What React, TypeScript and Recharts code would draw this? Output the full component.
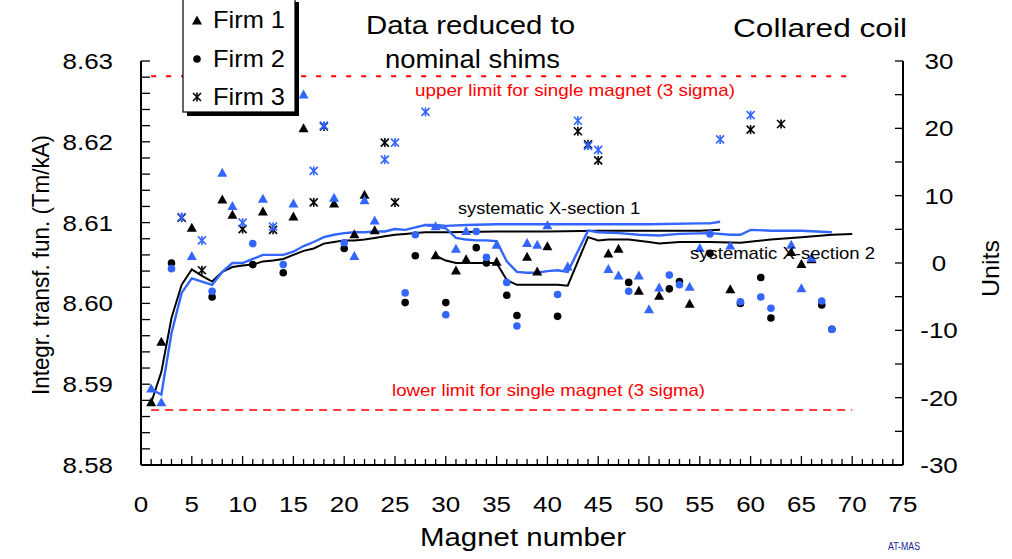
import { ComposedChart, Line, Scatter, XAxis, YAxis } from "recharts";

type P = [number, number];

// Firm 1 (triangles): black = one reduction, blue = the other
const firm1Black: P[] = [
  [1, 8.5877], [2, 8.5952], [5, 8.6093], [8, 8.6128], [9, 8.6109], [12, 8.6113], [15, 8.6107],
  [16, 8.6216], [19, 8.6123], [21, 8.6085], [22, 8.6134], [23, 8.609], [29, 8.6059], [31, 8.604],
  [32, 8.6054], [35, 8.6051], [38, 8.6057], [39, 8.6039], [40, 8.607], [46, 8.6061], [47, 8.6067],
  [49, 8.6015], [51, 8.6009], [54, 8.5999], [58, 8.6017], [64, 8.6063], [65, 8.6048], [66, 8.6054],
];
const firm1Blue: P[] = [
  [1, 8.5894], [2, 8.5877], [5, 8.6058], [8, 8.6161], [9, 8.612], [12, 8.6129], [15, 8.6123],
  [16, 8.6258], [19, 8.613], [21, 8.6058], [22, 8.6127], [23, 8.6102], [29, 8.6095], [31, 8.6067],
  [32, 8.6089], [35, 8.6072], [38, 8.6074], [39, 8.6072], [40, 8.6096], [42, 8.6045], [46, 8.6042],
  [47, 8.6034], [49, 8.6034], [50, 8.5992], [51, 8.6019], [54, 8.602], [55, 8.6068], [58, 8.6071],
  [64, 8.6072], [65, 8.6018], [66, 8.6056],
];
// Firm 2 (circles)
const firm2Black: P[] = [
  [3, 8.605], [7, 8.6008], [11, 8.6048], [14, 8.6038], [20, 8.6068], [26, 8.6001], [27, 8.6059],
  [30, 8.6001], [33, 8.6069], [34, 8.605], [36, 8.601], [37, 8.5985], [41, 8.5984], [48, 8.6026],
  [52, 8.6018], [53, 8.6027], [56, 8.6062], [59, 8.6], [61, 8.6032], [62, 8.5982], [67, 8.5998],
  [68, 8.5968],
];
const firm2Blue: P[] = [
  [3, 8.6043], [7, 8.6015], [11, 8.6074], [14, 8.6048], [20, 8.6075], [26, 8.6013], [27, 8.6085],
  [30, 8.5986], [33, 8.6089], [34, 8.6057], [36, 8.6026], [37, 8.5972], [41, 8.6011], [48, 8.6015],
  [52, 8.6035], [53, 8.6023], [56, 8.6086], [59, 8.6002], [61, 8.6008], [62, 8.5994], [67, 8.6003],
  [68, 8.5968],
];
// Firm 3 (asterisks)
const firm3Black: P[] = [
  [4, 8.6106], [6, 8.6041], [10, 8.6092], [13, 8.6091], [17, 8.6125], [18, 8.6219], [24, 8.6199],
  [25, 8.6125], [43, 8.6213], [44, 8.6197], [45, 8.6177], [60, 8.6215], [63, 8.6222],
];
const firm3Blue: P[] = [
  [4, 8.6107], [6, 8.6078], [10, 8.61], [13, 8.6095], [17, 8.6164], [18, 8.622], [24, 8.6178],
  [25, 8.6199], [28, 8.6237], [43, 8.6226], [44, 8.6195], [45, 8.619], [57, 8.6203], [60, 8.6233],
];

// systematic cross-section curves
const sysX1Black: P[] = [
  [1, 8.5877], [2, 8.5915], [3, 8.5982], [4, 8.6023], [5, 8.6042], [6, 8.6034], [7, 8.6027],
  [8, 8.6039], [9, 8.6045], [10, 8.6047], [11, 8.6048], [12, 8.6052], [13, 8.6053], [14, 8.6055],
  [15, 8.606], [16, 8.6065], [17, 8.6068], [18, 8.6074], [19, 8.6076], [20, 8.6078], [21, 8.6078],
  [22, 8.6079], [23, 8.6081], [24, 8.6083], [25, 8.6085], [26, 8.6086], [27, 8.6087], [28, 8.6088],
  [30, 8.6088], [35, 8.6089], [40, 8.6089], [45, 8.609], [50, 8.609], [55, 8.609], [57, 8.6091],
];
const sysX1Blue: P[] = [
  [1, 8.5894], [2, 8.5887], [3, 8.5963], [4, 8.6013], [5, 8.6031], [6, 8.6027], [7, 8.6023],
  [8, 8.6039], [9, 8.605], [10, 8.605], [11, 8.6055], [12, 8.606], [13, 8.606], [14, 8.606],
  [15, 8.6064], [16, 8.6071], [17, 8.6076], [18, 8.6082], [19, 8.6085], [20, 8.6087], [21, 8.6088],
  [22, 8.6088], [23, 8.6089], [24, 8.6089], [25, 8.6092], [26, 8.6091], [27, 8.6094], [28, 8.6097],
  [29, 8.6097], [30, 8.6096], [32, 8.6097], [35, 8.6098], [40, 8.6098], [45, 8.6098], [50, 8.6098],
  [55, 8.6099], [56, 8.6099], [57, 8.6101],
];
const sysX2Black: P[] = [
  [29, 8.6059], [30, 8.6053], [31, 8.605], [32, 8.605], [33, 8.605], [34, 8.605], [35, 8.605],
  [36, 8.6029], [37, 8.6023], [38, 8.6023], [39, 8.6023], [40, 8.6023], [41, 8.6023], [42, 8.6022],
  [44, 8.6082], [45, 8.6078], [46, 8.6079], [48, 8.6079], [50, 8.6076], [51, 8.6074], [53, 8.6076],
  [56, 8.6076], [59, 8.6075], [62, 8.6079], [65, 8.6082], [68, 8.6085], [70, 8.6086],
];
const sysX2Blue: P[] = [
  [28, 8.6097], [29, 8.6095], [30, 8.6093], [31, 8.6081], [32, 8.6079], [33, 8.6078], [34, 8.6078],
  [35, 8.6077], [36, 8.6052], [37, 8.6039], [38, 8.6038], [39, 8.6038], [40, 8.604], [41, 8.6041],
  [42, 8.6039], [44, 8.609], [45, 8.6088], [47, 8.6087], [49, 8.6085], [51, 8.6084], [53, 8.6086],
  [56, 8.6087], [58, 8.6085], [59, 8.6085], [60, 8.6091], [62, 8.609], [65, 8.609], [68, 8.6088],
];

const upperLimit: P[] = [[1, 8.6281], [70, 8.6281]];
const lowerLimit: P[] = [[1, 8.5868], [70, 8.5868]];

const xTickLabels = [0, 5, 10, 15, 20, 25, 30, 35, 40, 45, 50, 55, 60, 65, 70, 75];
const leftTickLabels = [8.58, 8.59, 8.6, 8.61, 8.62, 8.63];
const rightTickLabels = [-30, -20, -10, 0, 10, 20, 30];

const FONT = "'Liberation Sans', Arial, sans-serif";
const BLUE = "#3366ff";
const RED = "#ff0000";

const pts = (a: P[]) => a.map(([x, y]) => ({ x, y }));

// minor tick lists (marks only)
const xTicks = Array.from({ length: 76 }, (_, i) => i);
const leftTicks = Array.from({ length: 26 }, (_, i) => 8.58 + i * 0.002);
const rightTicks = Array.from({ length: 13 }, (_, i) => -30 + i * 5);

function Tri({ cx, cy, fill }: any) {
  return <polygon points={`${cx},${cy - 5.5} ${cx - 5},${cy + 3.5} ${cx + 5},${cy + 3.5}`} fill={fill} />;
}
function Dot({ cx, cy, fill }: any) {
  return <circle cx={cx} cy={cy} r={3.8} fill={fill} />;
}
function Star({ cx, cy, fill }: any) {
  const s = 4;
  return (
    <g stroke={fill} strokeWidth={1.6}>
      <line x1={cx - s} y1={cy - s} x2={cx + s} y2={cy + s} />
      <line x1={cx - s} y1={cy + s} x2={cx + s} y2={cy - s} />
      <line x1={cx} y1={cy - s - 0.5} x2={cx} y2={cy + s + 0.5} />
    </g>
  );
}

function tickText(x: number, y: number, label: string, anchor: string) {
  return (
    <text
      transform={`translate(${x},${y}) scale(1.18,1)`}
      textAnchor={anchor}
      fontFamily={FONT}
      fontSize={22}
      fill="#000"
    >
      {label}
    </text>
  );
}

const XTick = (p: any) => {
  const v = Math.round(p.payload.value);
  const major = xTickLabels.includes(v);
  return (
    <g>
      <line x1={p.x} x2={p.x} y1={p.y} y2={p.y - (major ? 9 : 6)} stroke="#000" strokeWidth={1.3} />
      {major && tickText(p.x, p.y + 47, String(v), "middle")}
    </g>
  );
};

const LeftTick = (p: any) => {
  const v = p.payload.value;
  const lab = leftTickLabels.find((t) => Math.abs(t - v) < 1e-6);
  return (
    <g>
      <line x1={p.x} x2={p.x + 9} y1={p.y} y2={p.y} stroke="#000" strokeWidth={1.3} />
      {lab !== undefined && tickText(p.x - 28, p.y + 8, lab.toFixed(2), "end")}
    </g>
  );
};

const RightTick = (p: any) => {
  const v = Math.round(p.payload.value);
  const major = rightTickLabels.includes(v);
  return (
    <g>
      <line x1={p.x} x2={p.x - 8} y1={p.y} y2={p.y} stroke="#000" strokeWidth={1.3} />
      {major && tickText(p.x + 36, p.y + 8, String(v), "middle")}
    </g>
  );
};

function T({ x, y, w, size, children, fill = "#000", rotate }: any) {
  return (
    <text
      x={x}
      y={y}
      textLength={w}
      lengthAdjust="spacingAndGlyphs"
      fontFamily={FONT}
      fontSize={size}
      fill={fill}
      transform={rotate ? `rotate(-90 ${x} ${y})` : undefined}
    >
      {children}
    </text>
  );
}

export default function App() {
  return (
    <div style={{ position: "absolute", left: 0, top: 0, width: 1012, height: 559, background: "#fff" }}>
      <ComposedChart width={1012} height={559} margin={{ top: 61, right: 108, bottom: 93, left: 140 }}>
        <XAxis
          type="number"
          dataKey="x"
          domain={[0, 75]}
          ticks={xTicks}
          interval={0}
          height={1}
          tickSize={0}
          tickMargin={0}
          tickLine={false}
          tick={XTick}
          axisLine={{ stroke: "#000", strokeWidth: 2 }}
          allowDataOverflow
        />
        <YAxis
          yAxisId="left"
          type="number"
          dataKey="y"
          domain={[8.58, 8.63]}
          ticks={leftTicks}
          interval={0}
          width={1}
          tickSize={0}
          tickMargin={0}
          tickLine={false}
          tick={LeftTick}
          axisLine={{ stroke: "#000", strokeWidth: 2 }}
          allowDataOverflow
        />
        <YAxis
          yAxisId="right"
          orientation="right"
          type="number"
          domain={[-30, 30]}
          ticks={rightTicks}
          interval={0}
          width={1}
          tickSize={0}
          tickMargin={0}
          tickLine={false}
          tick={RightTick}
          axisLine={{ stroke: "#000", strokeWidth: 2 }}
          allowDataOverflow
        />

        <Line yAxisId="left" data={pts(upperLimit)} dataKey="y" stroke={RED} strokeWidth={2} strokeDasharray="5 10" dot={false} isAnimationActive={false} />
        <Line yAxisId="left" data={pts(lowerLimit)} dataKey="y" stroke={RED} strokeWidth={1.6} strokeDasharray="8 6" dot={false} isAnimationActive={false} />

        <Line yAxisId="left" data={pts(sysX1Black)} dataKey="y" stroke="#000" strokeWidth={2} dot={false} isAnimationActive={false} />
        <Line yAxisId="left" data={pts(sysX2Black)} dataKey="y" stroke="#000" strokeWidth={2} dot={false} isAnimationActive={false} />
        <Line yAxisId="left" data={pts(sysX1Blue)} dataKey="y" stroke={BLUE} strokeWidth={2.4} dot={false} isAnimationActive={false} />
        <Line yAxisId="left" data={pts(sysX2Blue)} dataKey="y" stroke={BLUE} strokeWidth={2.4} dot={false} isAnimationActive={false} />

        <Scatter yAxisId="left" data={pts(firm1Black)} shape={(p: any) => <Tri cx={p.cx} cy={p.cy} fill="#000" />} isAnimationActive={false} />
        <Scatter yAxisId="left" data={pts(firm2Black)} shape={(p: any) => <Dot cx={p.cx} cy={p.cy} fill="#000" />} isAnimationActive={false} />
        <Scatter yAxisId="left" data={pts(firm3Black)} shape={(p: any) => <Star cx={p.cx} cy={p.cy} fill="#000" />} isAnimationActive={false} />
        <Scatter yAxisId="left" data={pts(firm1Blue)} shape={(p: any) => <Tri cx={p.cx} cy={p.cy} fill={BLUE} />} isAnimationActive={false} />
        <Scatter yAxisId="left" data={pts(firm2Blue)} shape={(p: any) => <Dot cx={p.cx} cy={p.cy} fill={BLUE} />} isAnimationActive={false} />
        <Scatter yAxisId="left" data={pts(firm3Blue)} shape={(p: any) => <Star cx={p.cx} cy={p.cy} fill={BLUE} />} isAnimationActive={false} />
      </ComposedChart>

      <svg width={1012} height={559} style={{ position: "absolute", left: 0, top: 0, pointerEvents: "none" }}>
        {/* legend */}
        <rect x={187} y={2} width={112} height={114} fill="#000" />
        <rect x={183} y={-2} width={112} height={114} fill="#fff" stroke="#000" strokeWidth={1.2} />
        <Tri cx={197} cy={21} fill="#000" />
        <T x={213} y={28} w={72} size={24}>Firm 1</T>
        <Dot cx={197} cy={59} fill="#000" />
        <T x={213} y={67} w={72} size={24}>Firm 2</T>
        <Star cx={197} cy={97} fill="#000" />
        <T x={213} y={105} w={72} size={24}>Firm 3</T>

        <T x={366} y={34} w={209} size={25}>Data reduced to</T>
        <T x={385} y={68} w={175} size={25}>nominal shims</T>
        <T x={733} y={37} w={174} size={25}>Collared coil</T>

        <T x={415} y={96} w={320} size={17} fill={RED}>upper limit for single magnet (3 sigma)</T>
        <T x={392} y={396} w={313} size={17} fill={RED}>lower limit for single magnet (3 sigma)</T>
        <T x={458} y={214} w={182} size={17}>systematic X-section 1</T>
        <T x={690} y={259} w={185} size={17}>systematic X-section 2</T>

        <T x={420} y={546} w={206} size={26}>Magnet number</T>
        <T x={49} y={395} w={260} size={24} rotate>Integr. transf. fun. (Tm/kA)</T>
        <T x={999} y={297} w={57} size={24} rotate>Units</T>
        <T x={888} y={550} w={32} size={10} fill="#1a1a9c">AT-MAS</T>
      </svg>
    </div>
  );
}
